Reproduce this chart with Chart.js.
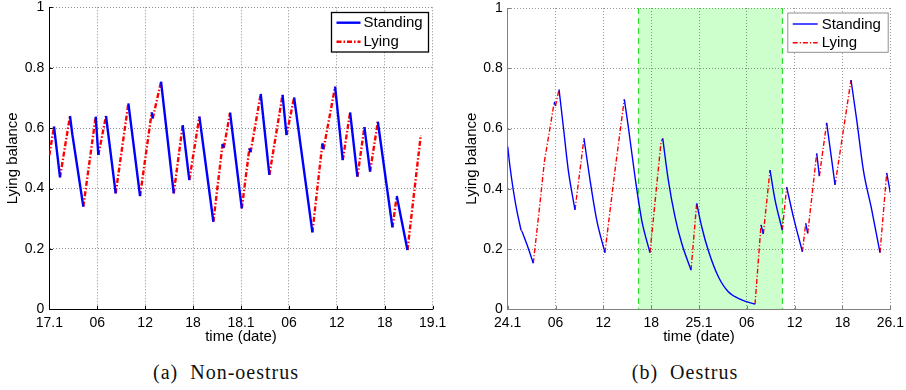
<!DOCTYPE html>
<html>
<head>
<meta charset="utf-8">
<script src="https://cdn.jsdelivr.net/npm/chart.js@4/dist/chart.umd.min.js"></script>
<style>
html, body { margin: 0; padding: 0; background: #fff; }
#wrap { position: relative; width: 906px; height: 390px; overflow: hidden; }
canvas { position: absolute; top: 0; }
.cap { position: absolute; top: 361px; font-family: 'Liberation Serif', 'Times New Roman', serif;
       font-size: 20px; color: #111; white-space: pre; letter-spacing: 1px; text-align: center; }
</style>
</head>
<body>
<div id="wrap">
  <canvas id="nonOestrus" width="453" height="350" style="left:0"></canvas>
  <canvas id="oestrus" width="453" height="350" style="left:453px"></canvas>
  <div class="cap" style="left:126px;width:200px">(a)  Non-oestrus</div>
  <div class="cap" style="left:585px;width:200px">(b)  Oestrus</div>
</div>
<script>
// Time axis: hours since midnight of the first day, ticks every 6 h.
const nonOestrusTickLabels = ['17.1', '06', '12', '18', '18.1', '06', '12', '18', '19.1'];
const oestrusTickLabels    = ['24.1', '06', '12', '18', '25.1', '06', '12', '18', '26.1'];
const seriesNames = ['Standing', 'Lying'];

// (a) Non-oestrus: lying balance while standing / lying (null = break between bouts)
const nonOestrusStandingHours = [0.59, 1.34, null, 2.59, 2.88, 4.26, null, 5.81, 6.14, null, 7.1, 8.31, null,
  9.9, 11.36, null, 12.82, 12.95, null, 13.99, 15.58, null, 16.7, 17.53, null, 18.79, 20.54, null,
  21.7, 21.85, null, 22.63, 24.1, null, 25.05, 25.2, null, 26.47, 27.55, null, 29.2, 29.7, null,
  30.65, 32.94, null, 34.19, 34.33, null, 35.78, 36.74, null, 37.66, 38.57, null, 39.45, 40.16, null,
  41.13, 42.96, null, 43.5, 44.84];
const nonOestrusStandingValues = [0.605, 0.437, null, 0.640, 0.580, 0.340, null, 0.638, 0.511, null, 0.640, 0.384, null,
  0.682, 0.375, null, 0.652, 0.632, null, 0.754, 0.384, null, 0.610, 0.428, null, 0.638, 0.290, null,
  0.548, 0.535, null, 0.651, 0.334, null, 0.533, 0.520, null, 0.713, 0.445, null, 0.710, 0.577, null,
  0.702, 0.255, null, 0.550, 0.530, null, 0.737, 0.494, null, 0.652, 0.439, null, 0.603, 0.456, null,
  0.621, 0.271, null, 0.375, 0.196];
const nonOestrusLyingHours = [0, 0.59, null, 1.34, 2.59, null, 4.26, 5.81, null, 6.14, 7.1, null, 8.31, 9.9, null,
  11.36, 12.82, null, 12.95, 13.99, null, 15.58, 16.7, null, 17.53, 18.79, null, 20.54, 21.7, null,
  21.85, 22.63, null, 24.1, 25.05, null, 25.2, 26.47, null, 27.55, 29.2, null, 29.7, 30.65, null,
  32.94, 34.19, null, 34.33, 35.78, null, 36.74, 37.66, null, 38.57, 39.45, null, 40.16, 41.13, null,
  42.96, 43.5, null, 44.84, 46.51];
const nonOestrusLyingValues = [0.51, 0.605, null, 0.437, 0.640, null, 0.340, 0.638, null, 0.511, 0.640, null, 0.384, 0.682, null,
  0.375, 0.652, null, 0.632, 0.754, null, 0.384, 0.610, null, 0.428, 0.638, null, 0.290, 0.548, null,
  0.535, 0.651, null, 0.334, 0.533, null, 0.520, 0.713, null, 0.445, 0.710, null, 0.577, 0.702, null,
  0.255, 0.550, null, 0.530, 0.737, null, 0.494, 0.652, null, 0.439, 0.603, null, 0.456, 0.621, null,
  0.271, 0.375, null, 0.196, 0.577];

// (b) Oestrus
const oestrusStandingHours = [0, 0.29, 0.70, 1.13, 1.67, null, 1.8, 2.59, 3.21, null, 5.85, 6.0, null,
  6.44, 6.98, 7.6, 8.44, null, 9.57, 10.33, 11.17, 12.2, null, 14.63, 15.13, 15.97, 16.81, 17.85, null,
  19.45, 20.15, 20.99, 21.83, 23.0, null, 23.71, 24.34, 25.17, 26.43, 27.68, 29.36, 31.03, null,
  31.78, 32.07, null, 32.91, 33.54, 34.45, null, 35.0, 35.84, 36.97, null, 37.39, 37.64, null,
  38.77, 39.1, null, 40.02, 41.07, null, 43.07, 43.79, 44.62, 45.67, 46.71, null, 47.55, 48];
const oestrusStandingValues = [0.540, 0.473, 0.396, 0.330, 0.263, null, 0.258, 0.202, 0.153, null, 0.689, 0.675, null,
  0.730, 0.606, 0.462, 0.330, null, 0.567, 0.429, 0.296, 0.188, null, 0.697, 0.606, 0.440, 0.296, 0.188, null,
  0.567, 0.429, 0.307, 0.219, 0.130, null, 0.352, 0.274, 0.195, 0.108, 0.058, 0.031, 0.017, null,
  0.280, 0.250, null, 0.462, 0.363, 0.263, null, 0.405, 0.307, 0.191, null, 0.285, 0.252, null,
  0.518, 0.442, null, 0.619, 0.413, null, 0.761, 0.628, 0.462, 0.330, 0.188, null, 0.453, 0.387];
const oestrusLyingHours = [1.67, 1.8, null, 3.21, 4.05, 4.6, 5.85, null, 6.0, 6.44, null, 8.44, 9.57, null,
  12.2, 13.46, 14.63, null, 17.85, 19.24, 19.45, null, 23.0, 23.71, null, 31.03, 31.78, null,
  32.07, 32.91, null, 34.45, 35.0, null, 36.97, 37.39, null, 37.64, 38.77, null, 39.1, 40.02, null,
  41.07, 43.07, null, 46.71, 47.55];
const oestrusLyingValues = [0.263, 0.258, null, 0.153, 0.352, 0.490, 0.689, null, 0.675, 0.730, null, 0.330, 0.567, null,
  0.188, 0.462, 0.697, null, 0.188, 0.556, 0.567, null, 0.130, 0.352, null, 0.017, 0.280, null,
  0.250, 0.462, null, 0.263, 0.405, null, 0.191, 0.285, null, 0.252, 0.518, null, 0.442, 0.619, null,
  0.413, 0.761, null, 0.188, 0.453];

// Oestrus period (hours)
const oestrusPeriod = [16.4, 34.45];

function toPoints(hours, values) {
  const pts = [];
  let last = 0;
  hours.forEach((h, i) => {
    if (h === null) { pts.push({ x: last, y: null }); }
    else { last = h; pts.push({ x: h, y: values[i] }); }
  });
  return pts;
}

const SANS = "'Liberation Sans', Arial, Helvetica, sans-serif";

// Shaded period, inward tick marks and boxed legend
const decor = {
  id: 'decor',
  beforeDraw(chart, args, o) {
    if (!o.band) return;
    const { ctx, chartArea: a, scales: { x } } = chart;
    const x0 = x.getPixelForValue(o.band[0]), x1 = x.getPixelForValue(o.band[1]);
    ctx.save();
    ctx.fillStyle = '#ccffcc';
    ctx.fillRect(x0, a.top, x1 - x0, a.bottom - a.top);
    ctx.restore();
  },
  beforeDatasetsDraw(chart, args, o) {
    const { ctx, chartArea: a, scales: { x, y } } = chart;
    ctx.save();
    if (o.band) {
      ctx.strokeStyle = '#33dd33';
      ctx.lineWidth = 1.2;
      ctx.setLineDash([6, 4]);
      o.band.forEach(v => {
        const px = Math.round(x.getPixelForValue(v)) + 0.5;
        ctx.beginPath(); ctx.moveTo(px, a.top); ctx.lineTo(px, a.bottom); ctx.stroke();
      });
      ctx.setLineDash([]);
    }
    ctx.strokeStyle = o.axisColor;
    ctx.lineWidth = 1;
    x.ticks.forEach(t => {
      const px = Math.round(x.getPixelForValue(t.value)) + 0.5;
      ctx.beginPath(); ctx.moveTo(px, a.bottom); ctx.lineTo(px, a.bottom - 3.5); ctx.stroke();
    });
    y.ticks.forEach(t => {
      const py = Math.round(y.getPixelForValue(t.value)) + 0.5;
      ctx.beginPath(); ctx.moveTo(a.left, py); ctx.lineTo(a.left + 3.5, py); ctx.stroke();
    });
    ctx.restore();
  },
  afterDraw(chart, args, o) {
    const { ctx } = chart;
    const L = o.legend;
    ctx.save();
    ctx.fillStyle = '#fff';
    ctx.fillRect(L.x, L.y, L.w, L.h);
    ctx.strokeStyle = L.border;
    ctx.lineWidth = L.borderWidth;
    ctx.strokeRect(L.x + 0.5, L.y + 0.5, L.w, L.h);
    chart.data.datasets.forEach((ds, i) => {
      const yy = L.y + L.row0 + i * L.rowGap;
      ctx.strokeStyle = ds.borderColor;
      ctx.lineWidth = ds.borderWidth;
      ctx.setLineDash(ds.borderDash || []);
      ctx.beginPath(); ctx.moveTo(L.x + L.lineX0, yy); ctx.lineTo(L.x + L.lineX1, yy); ctx.stroke();
      ctx.setLineDash([]);
      ctx.fillStyle = '#000';
      ctx.font = '15px ' + SANS;
      ctx.textBaseline = 'middle';
      ctx.textAlign = 'left';
      ctx.fillText(ds.label, L.x + L.textX, yy + 0.5);
    });
    ctx.restore();
  }
};

function makeChart(id, cfg) {
  return new Chart(document.getElementById(id), {
    type: 'line',
    data: {
      datasets: [
        { label: seriesNames[0], data: toPoints(cfg.standH, cfg.standV), borderColor: '#0000ff',
          borderWidth: cfg.lw, pointRadius: 0, tension: cfg.smooth ? 0.4 : 0,
          cubicInterpolationMode: cfg.smooth ? 'monotone' : 'default', spanGaps: false },
        { label: seriesNames[1], data: toPoints(cfg.lyingH, cfg.lyingV), borderColor: '#ff0000',
          borderWidth: cfg.lw, borderDash: cfg.dash, pointRadius: 0, tension: 0, spanGaps: false }
      ]
    },
    options: {
      responsive: false,
      animation: false,
      events: [],
      layout: { padding: { left: 0, top: cfg.top, right: cfg.right, bottom: 0 } },
      scales: {
        x: {
          type: 'linear', min: 0, max: 48,
          ticks: { stepSize: 6, autoSkip: false, maxRotation: 0, padding: 5, color: '#000',
                   font: { family: SANS, size: 14 },
                   callback: v => cfg.tickLabels[Math.round(v / 6)] },
          grid: { color: cfg.gridColor, drawTicks: false, lineWidth: 1 },
          border: { display: true, color: cfg.axisColor, width: 1, dash: [1, 2] },
          title: { display: true, text: 'time (date)', color: '#000', font: { family: SANS, size: 15 },
                   padding: { top: 0, bottom: 3.7 } },
          afterFit: s => { s.height = 40.7; s.paddingLeft = 0; s.paddingRight = 0; }
        },
        y: {
          type: 'linear', min: 0, max: 1,
          ticks: { stepSize: 0.2, padding: 5, color: '#000', font: { family: SANS, size: 14 },
                   callback: v => (Math.round(v * 10) / 10).toString() },
          grid: { color: cfg.gridColor, drawTicks: false, lineWidth: 1 },
          border: { display: true, color: cfg.axisColor, width: 1, dash: [1, 2] },
          title: { display: true, text: 'Lying balance', color: '#000', font: { family: SANS, size: 15 },
                   padding: { top: cfg.yTitlePad, bottom: 0 } },
          afterFit: s => { s.width = cfg.yWidth; s.paddingTop = 0; s.paddingBottom = 0; }
        }
      },
      plugins: {
        legend: { display: false },
        tooltip: { enabled: false },
        decor: { band: cfg.band, axisColor: cfg.axisColor, legend: cfg.legend }
      }
    },
    plugins: [decor]
  });
}

makeChart('nonOestrus', {
  standH: nonOestrusStandingHours, standV: nonOestrusStandingValues,
  lyingH: nonOestrusLyingHours, lyingV: nonOestrusLyingValues,
  tickLabels: nonOestrusTickLabels, lw: 2.4, dash: [5, 2, 1.5, 2], smooth: false,
  top: 7.3, right: 20.3, yWidth: 49.3, yTitlePad: 4.3,
  axisColor: '#000', gridColor: 'rgba(0,0,0,0.45)', band: null,
  legend: { x: 331, y: 12, w: 97, h: 39.5, border: '#000', borderWidth: 1.3,
            row0: 10.7, rowGap: 19, lineX0: 5.5, lineX1: 29.5, textX: 32.5 }
});

makeChart('oestrus', {
  standH: oestrusStandingHours, standV: oestrusStandingValues,
  lyingH: oestrusLyingHours, lyingV: oestrusLyingValues,
  tickLabels: oestrusTickLabels, lw: 1.4, dash: [5, 2, 1.2, 2], smooth: true,
  top: 8, right: 15.7, yWidth: 54.7, yTitlePad: 9.7,
  axisColor: '#808080', gridColor: 'rgba(0,0,0,0.4)', band: oestrusPeriod,
  legend: { x: 334.3, y: 12.5, w: 100.4, h: 39.3, border: '#909090', borderWidth: 1,
            row0: 11.5, rowGap: 18.7, lineX0: 5.4, lineX1: 30.4, textX: 34.4 }
});
</script>
</body>
</html>
